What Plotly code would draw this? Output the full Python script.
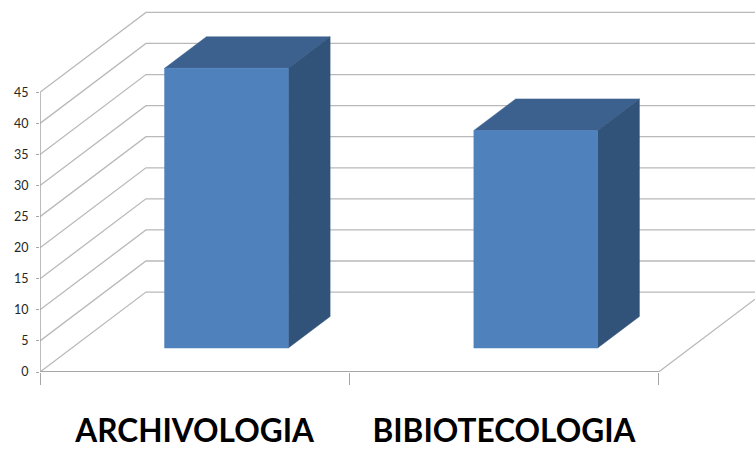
import plotly.graph_objects as go

categories = ["ARCHIVOLOGIA", "BIBIOTECOLOGIA"]
values = [45, 35]
y_ticks = [0, 5, 10, 15, 20, 25, 30, 35, 40, 45]

W, H = 755, 449
X0, Y0 = 39.5, 372.4
CAT_PX = 309.5
UNIT_PX = 280 / 45
DX = 106 / CAT_PX          # depth shear, category units per full depth
DY = 80 / UNIT_PX          # depth shear, value units per full depth
BAR_W = 0.40
D_FRONT, D_BACK = 0.30, 0.695
GRID = "#b9b9b9"
AXIS = "#a6a6a6"
FRONT, TOP, SIDE = "#4f81bd", "#3c618f", "#325379"

n = len(categories)
xmax = (W - X0) / CAT_PX
ymax = Y0 / UNIT_PX


def proj(x, v, d):
    return x + DX * d, v + DY * d


def line(pts, color=GRID, width=1.3):
    return go.Scatter(x=[p[0] for p in pts], y=[p[1] for p in pts], mode="lines",
                      line=dict(color=color, width=width), hoverinfo="skip",
                      showlegend=False, cliponaxis=False)


def face(pts, color):
    xs = [p[0] for p in pts] + [pts[0][0]]
    ys = [p[1] for p in pts] + [pts[0][1]]
    return go.Scatter(x=xs, y=ys, mode="lines", fill="toself", fillcolor=color,
                      line=dict(color=color, width=0.5), hoverinfo="skip",
                      showlegend=False)


fig = go.Figure()

# walls: back and side gridlines
for t in y_ticks:
    back = proj(0, t, 1)
    fig.add_trace(line([(0, t), back, (xmax, back[1])]))

# floor front edge and right edge
right = proj(n, 0, 1)
fig.add_trace(line([(0, 0), (n, 0), right], color=GRID, width=1.3))
fig.add_trace(line([(0, 0), (n, 0)], color=AXIS, width=2))
# value axis line
fig.add_trace(line([(0, 0), (0, max(y_ticks))], color=AXIS, width=1.5))

# bars
for i, v in enumerate(values):
    xl = i + 0.5 - BAR_W / 2
    xr = i + 0.5 + BAR_W / 2
    fig.add_trace(face([proj(xl, v, D_FRONT), proj(xl, v, D_BACK), proj(xr, v, D_BACK), proj(xr, v, D_FRONT)], TOP))
    fig.add_trace(face([proj(xr, 0, D_FRONT), proj(xr, 0, D_BACK), proj(xr, v, D_BACK), proj(xr, v, D_FRONT)], SIDE))
    fig.add_trace(face([proj(xl, 0, D_FRONT), proj(xr, 0, D_FRONT), proj(xr, v, D_FRONT), proj(xl, v, D_FRONT)], FRONT))

fig.update_layout(
    width=W, height=H,
    margin=dict(l=X0, r=0, t=0, b=H - Y0),
    paper_bgcolor="white", plot_bgcolor="white",
    showlegend=False,
    xaxis=dict(
        automargin=False,
        range=[0, xmax], showgrid=False, zeroline=False, showline=False,
        tickmode="array", tickvals=[i + 0.5 for i in range(n)], ticktext=categories,
        ticks="", ticklabelstandoff=37,
        tickfont=dict(family="Lato", size=31.6, color="#000000", weight="bold"),
        minor=dict(tickmode="array", tickvals=list(range(n + 1)), ticks="outside",
                   ticklen=12, tickcolor=AXIS, tickwidth=1.2, showgrid=False),
    ),
    yaxis=dict(
        automargin=False,
        range=[0, ymax], showgrid=False, zeroline=False, showline=False,
        tickmode="array", tickvals=y_ticks, ticks="outside", ticklen=3,
        tickcolor=AXIS, tickwidth=1, ticklabelstandoff=5,
        tickfont=dict(family="Lato", size=12.5, color="#262626"),
    ),
)

fig.write_html("out.html", config={"displayModeBar": False},
               post_script="document.body.style.margin='0';")
